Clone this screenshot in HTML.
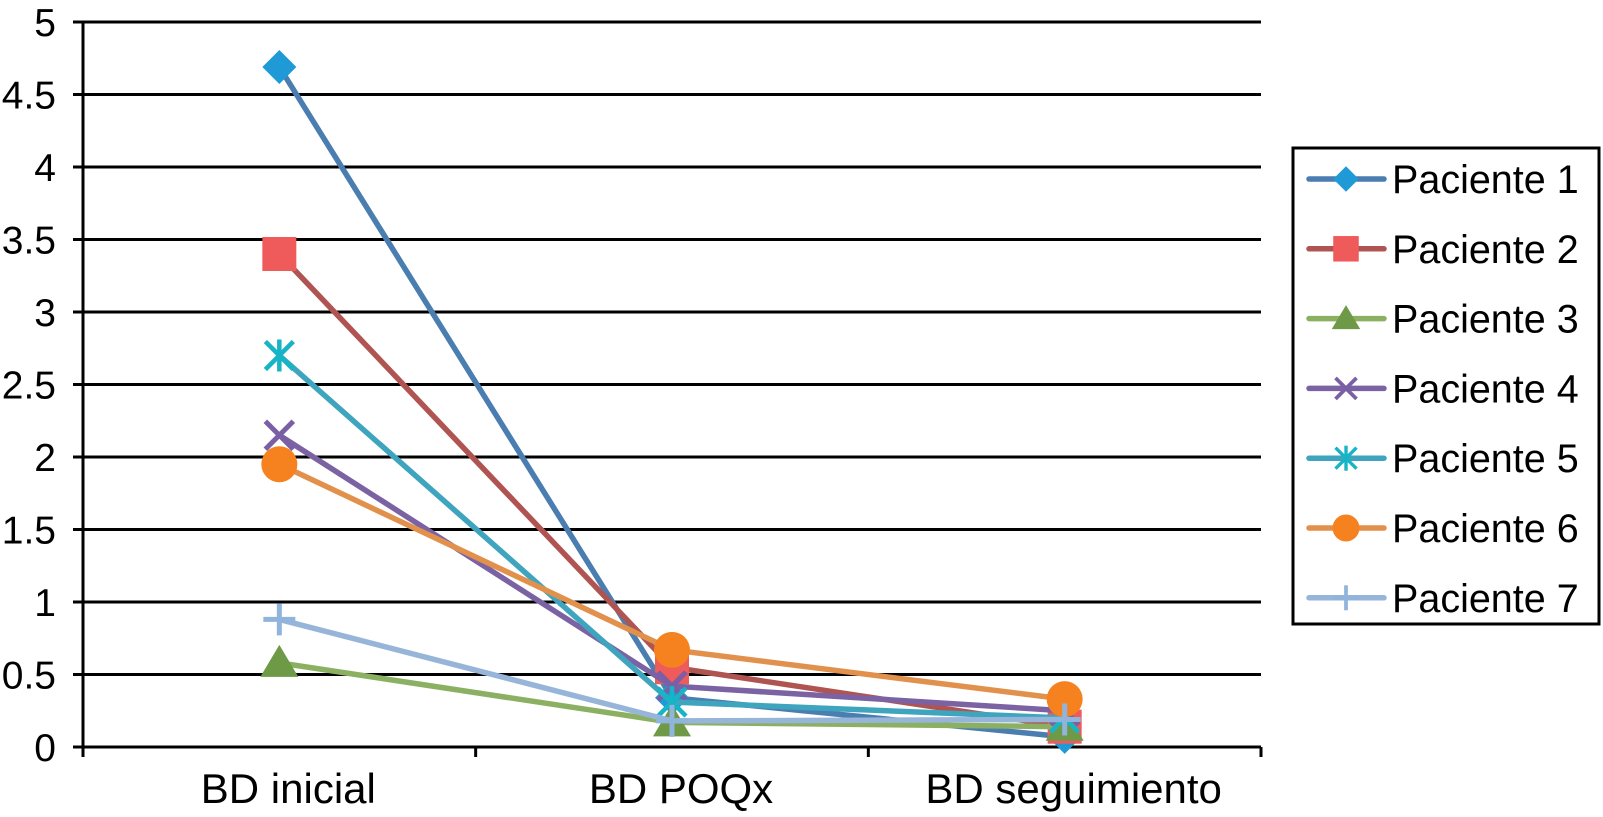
<!DOCTYPE html>
<html><head><meta charset="utf-8"><style>
body{margin:0;background:#fff;}
svg text{font-family:"Liberation Sans",sans-serif;fill:#000;}
</style></head><body>
<svg id="chart" width="1603" height="812" xmlns="http://www.w3.org/2000/svg"></svg>
<script>
const categories = ["BD inicial", "BD POQx", "BD seguimiento"];
const yTicks = [0, 0.5, 1, 1.5, 2, 2.5, 3, 3.5, 4, 4.5, 5];
const yTickLabels = ["0", "0.5", "1", "1.5", "2", "2.5", "3", "3.5", "4", "4.5", "5"];
const seriesNames = ["Paciente 1","Paciente 2","Paciente 3","Paciente 4","Paciente 5","Paciente 6","Paciente 7"];
const p1 = [4.69, 0.34, 0.07];
const p2 = [3.4, 0.55, 0.14];
const p3 = [0.58, 0.17, 0.14];
const p4 = [2.15, 0.42, 0.25];
const p5 = [2.7, 0.31, 0.2];
const p6 = [1.95, 0.67, 0.33];
const p7 = [0.88, 0.18, 0.19];
const seriesValues = [p1,p2,p3,p4,p5,p6,p7];
const lineColors = ["#4a7db0","#b05452","#8cb062","#7a62a3","#3fa5bf","#e1914c","#96b5d8"];
const markerColors = ["#1f9ad6","#ef5a5a","#6e9a47","#7a5ea6","#17b4c5","#f5821f","#90b4dc"];
const markerTypes = ["diamond","square","triangle","x","star","circle","plus"];

const NS="http://www.w3.org/2000/svg";
const svg=document.getElementById('chart');
const X0=83,X1=1261,Y0=747,Y1=22;
const yScale=v=>Y0-(v-0)/(5-0)*(Y0-Y1);
const band=(X1-X0)/categories.length;
const xScale=i=>X0+band*(i+0.5);
function mk(tag,attrs,parent){const e=document.createElementNS(NS,tag);for(const k in attrs)e.setAttribute(k,attrs[k]);(parent||svg).appendChild(e);return e;}

yTicks.forEach((t,i)=>{
  const g=mk('line',{x1:X0-10,x2:X1,y1:yScale(t),y2:yScale(t),stroke:'#000','stroke-width':3});
  
  
  const tx=mk('text',{x:56,y:yScale(t)+14,'text-anchor':'end','font-size':39});
  tx.textContent=yTickLabels[i];
  
  
});
const ya=mk('line',{x1:X0,x2:X0,y1:Y1,y2:Y0,stroke:'#000','stroke-width':3});


for(let i=0;i<=categories.length;i++){
  const tk=mk('line',{x1:X0+band*i,x2:X0+band*i,y1:Y0,y2:Y0+10,stroke:'#000','stroke-width':3});
  
  
}
categories.forEach((c,i)=>{
  const t=mk('text',{x:xScale(i)+9,y:803,'text-anchor':'middle','font-size':42});
  t.textContent=c;
  
  
});

function marker(type,x,y,color,parent,s){
  s=s||1;let e;
  if(type==='diamond')e=mk('polygon',{points:`${x},${y-17*s} ${x+17*s},${y} ${x},${y+17*s} ${x-17*s},${y}`,fill:color},parent);
  else if(type==='square')e=mk('rect',{x:x-17*s,y:y-17*s,width:34*s,height:34*s,fill:color},parent);
  else if(type==='triangle')e=mk('polygon',{points:`${x},${y-18*s} ${x+19*s},${y+14*s} ${x-19*s},${y+14*s}`,fill:color},parent);
  else if(type==='circle')e=mk('circle',{cx:x,cy:y,r:18*s,fill:color},parent);
  else{
    e=mk('g',{stroke:color,'stroke-width':5*s},parent);
    const d=14*s;
    if(type==='x'||type==='star'){mk('line',{x1:x-d,y1:y-d,x2:x+d,y2:y+d},e);mk('line',{x1:x-d,y1:y+d,x2:x+d,y2:y-d},e);}
    if(type==='star'||type==='plus'){mk('line',{x1:x,y1:y-d-2,x2:x,y2:y+d+2},e);}
    if(type==='plus'){mk('line',{x1:x-d-2,y1:y,x2:x+d+2,y2:y},e);}
    if(type==='star'){e.setAttribute('stroke-width',4.5*s);}
  }
  return e;
}

seriesValues.forEach((vals,si)=>{
  const g=mk('g',{});
  
  
  const pl=mk('polyline',{points:vals.map((v,i)=>xScale(i)+','+yScale(v)).join(' '),fill:'none',stroke:lineColors[si],'stroke-width':5.5},g);
  
  
  vals.forEach((v,i)=>{
    const m=marker(markerTypes[si],xScale(i),yScale(v),markerColors[si],g);
    
    
  });
});

const lg=mk('g',{});


mk('rect',{x:1293,y:148,width:306,height:476,fill:'#fff',stroke:'#000','stroke-width':3},lg);
seriesNames.forEach((n,i)=>{
  const y=179+i*69.8;
  const e=mk('g',{},lg);
  
  
  mk('line',{x1:1309,x2:1384,y1:y,y2:y,stroke:lineColors[i],'stroke-width':5.5,'stroke-linecap':'round'},e);
  marker(markerTypes[i],1346,y,markerColors[i],e,0.75);
  const t=mk('text',{x:1392,y:y+14,'font-size':39.5},e);
  t.textContent=n;
});
</script>
</body></html>
